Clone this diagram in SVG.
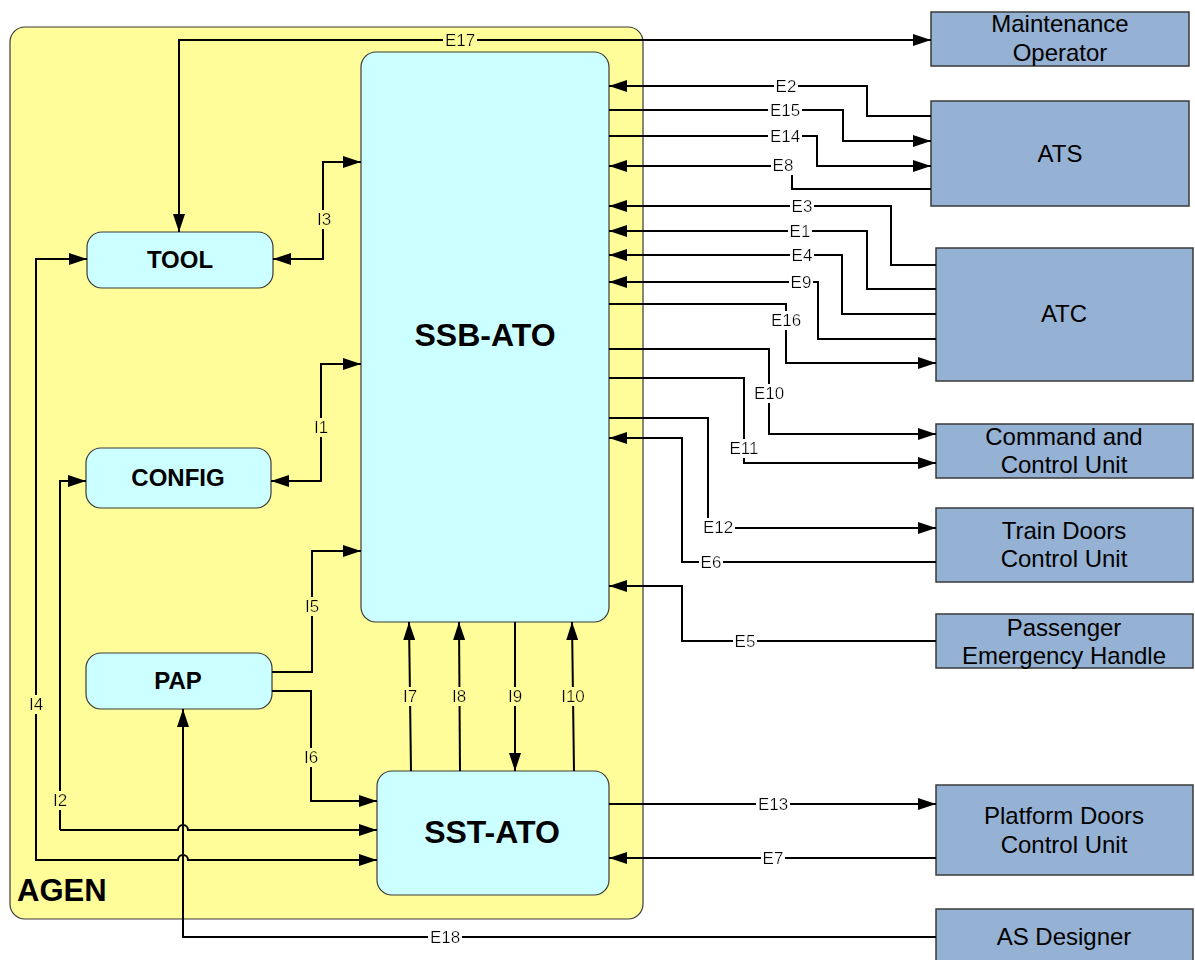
<svg xmlns="http://www.w3.org/2000/svg" width="1195" height="960" viewBox="0 0 1195 960">
<style>
.ext{fill:#95B1D3;stroke:#3a3a3a;stroke-width:1.5}
.int{fill:#CCFFFF;stroke:#3a3a3a;stroke-width:1.2}
.tx{font-family:"Liberation Sans",Arial,sans-serif;font-size:24px;fill:#000;text-anchor:middle}
.bt{font-family:"Liberation Sans",Arial,sans-serif;font-weight:bold;fill:#000;text-anchor:middle}
.c{fill:none;stroke:#000;stroke-width:2}
.a{marker-end:url(#ah)}
.b{marker-start:url(#ah);marker-end:url(#ah)}
.lb{font-family:"Liberation Sans",Arial,sans-serif;font-size:17px;fill:#000;text-anchor:middle}
.lw{filter:url(#bgw)}
.ly{filter:url(#bgy)}
</style>
<defs>
<marker id="ah" markerUnits="userSpaceOnUse" markerWidth="18" markerHeight="12" refX="18" refY="6" orient="auto-start-reverse">
<path d="M0,0 L18,6 L0,12 z" fill="#000"/>
</marker>
<filter id="bgw" x="-0.04" y="0.05" width="1.08" height="0.9"><feFlood flood-color="#FFFFFF"/><feComposite in="SourceGraphic"/></filter>
<filter id="bgy" x="-0.04" y="0.05" width="1.08" height="0.9"><feFlood flood-color="#FFFD99"/><feComposite in="SourceGraphic"/></filter>
</defs>

<g id="AGEN">
<rect x="10" y="27" width="633" height="892" rx="15" fill="#FFFD99" stroke="#3a3a3a" stroke-width="1.2"/>
<text x="17" y="901" class="bt" font-size="31" style="text-anchor:start">AGEN</text>
</g>

<g id="SSB-ATO">
<rect class="int" x="361" y="52" width="248" height="570" rx="15"/>
<text class="bt" x="485" y="346" font-size="32">SSB-ATO</text>
</g>
<g id="SST-ATO">
<rect class="int" x="377" y="771" width="232" height="124" rx="15"/>
<text class="bt" x="492" y="843" font-size="32">SST-ATO</text>
</g>
<g id="TOOL">
<rect class="int" x="87" y="232" width="186" height="56" rx="15"/>
<text class="bt" x="180" y="268" font-size="24">TOOL</text>
</g>
<g id="CONFIG">
<rect class="int" x="86" y="448" width="185" height="60" rx="15"/>
<text class="bt" x="178" y="486" font-size="24">CONFIG</text>
</g>
<g id="PAP">
<rect class="int" x="86" y="653" width="186" height="56" rx="15"/>
<text class="bt" x="178" y="689" font-size="24">PAP</text>
</g>

<g id="MaintenanceOperator">
<rect class="ext" x="931" y="12" width="258" height="54"/>
<text class="tx" x="1060" y="32">Maintenance</text>
<text class="tx" x="1060" y="61">Operator</text>
</g>
<g id="ATS">
<rect class="ext" x="931" y="101" width="258" height="105"/>
<text class="tx" x="1060" y="162">ATS</text>
</g>
<g id="ATC">
<rect class="ext" x="936" y="248" width="257" height="133"/>
<text class="tx" x="1064" y="322">ATC</text>
</g>
<g id="CommandControlUnit">
<rect class="ext" x="936" y="424" width="257" height="54"/>
<text class="tx" x="1064" y="445">Command and</text>
<text class="tx" x="1064" y="473">Control Unit</text>
</g>
<g id="TrainDoorsControlUnit">
<rect class="ext" x="936" y="508" width="257" height="74"/>
<text class="tx" x="1064" y="539">Train Doors</text>
<text class="tx" x="1064" y="567">Control Unit</text>
</g>
<g id="PassengerEmergencyHandle">
<rect class="ext" x="936" y="614" width="257" height="54"/>
<text class="tx" x="1064" y="636">Passenger</text>
<text class="tx" x="1064" y="664">Emergency Handle</text>
</g>
<g id="PlatformDoorsControlUnit">
<rect class="ext" x="936" y="785" width="257" height="90"/>
<text class="tx" x="1064" y="824">Platform Doors</text>
<text class="tx" x="1064" y="853">Control Unit</text>
</g>
<g id="ASDesigner">
<rect class="ext" x="936" y="909" width="257" height="60"/>
<text class="tx" x="1064" y="945">AS Designer</text>
</g>

<g id="connectors">
<path class="c b" d="M179,232 V40 H931"/>
<path class="c a" d="M931,116 H867 V86 H609"/>
<path class="c a" d="M609,110 H843 V141 H931"/>
<path class="c a" d="M609,136 H817 V166 H931"/>
<path class="c a" d="M931,189 H792 V166 H609"/>
<path class="c a" d="M936,265 H891 V206 H609"/>
<path class="c a" d="M936,289 H867 V231 H609"/>
<path class="c a" d="M936,314 H842 V255 H609"/>
<path class="c a" d="M936,339 H818 V282 H609"/>
<path class="c a" d="M609,304 H786 V363 H936"/>
<path class="c a" d="M609,349 H769 V434 H936"/>
<path class="c a" d="M609,378 H744 V463 H936"/>
<path class="c a" d="M609,418 H708 V528 H936"/>
<path class="c a" d="M936,562 H682 V438 H609"/>
<path class="c a" d="M936,641 H682 V586 H609"/>
<path class="c a" d="M609,804 H936"/>
<path class="c a" d="M936,858 H609"/>
<path class="c a" d="M936,937 H183 V709"/>
<path class="c b" d="M273,259 H323 V162 H361"/>
<path class="c b" d="M271,481 H321 V364 H361"/>
<path class="c a" d="M272,672 H312 V551 H361"/>
<path class="c a" d="M272,691 H311 V801 H377"/>
<path class="c b" d="M377,860 H188 A5,5 0 0 0 178,860 H36 V259 H87"/>
<path class="c a" d="M60,830 V481 H86"/>
<path class="c a" d="M60,830 H178 A5,5 0 0 1 188,830 H377"/>
<path class="c a" d="M411,771 L409,622"/>
<path class="c a" d="M460,771 L459,622"/>
<path class="c a" d="M515,622 V771"/>
<path class="c a" d="M574,771 L572,622"/>

<text class="lb ly" x="460" y="46">E17</text>
<text class="lb lw" x="786" y="92">E2</text>
<text class="lb lw" x="785" y="116">E15</text>
<text class="lb lw" x="785" y="142">E14</text>
<text class="lb lw" x="783" y="171">E8</text>
<text class="lb lw" x="802" y="212">E3</text>
<text class="lb lw" x="800" y="237">E1</text>
<text class="lb lw" x="802" y="261">E4</text>
<text class="lb lw" x="801" y="288">E9</text>
<text class="lb lw" x="786" y="326">E16</text>
<text class="lb lw" x="769" y="399">E10</text>
<text class="lb lw" x="744" y="454">E11</text>
<text class="lb lw" x="718" y="533">E12</text>
<text class="lb lw" x="711" y="568">E6</text>
<text class="lb lw" x="745" y="647">E5</text>
<text class="lb lw" x="773" y="810">E13</text>
<text class="lb lw" x="773" y="864">E7</text>
<text class="lb lw" x="445" y="943">E18</text>
<text class="lb ly" x="324" y="225">I3</text>
<text class="lb ly" x="321" y="433">I1</text>
<text class="lb ly" x="312" y="612">I5</text>
<text class="lb ly" x="311" y="763">I6</text>
<text class="lb ly" x="36" y="710">I4</text>
<text class="lb ly" x="60" y="806">I2</text>
<text class="lb ly" x="410" y="702">I7</text>
<text class="lb ly" x="459" y="702">I8</text>
<text class="lb ly" x="515" y="702">I9</text>
<text class="lb ly" x="573" y="702">I10</text>
</g>
</svg>
